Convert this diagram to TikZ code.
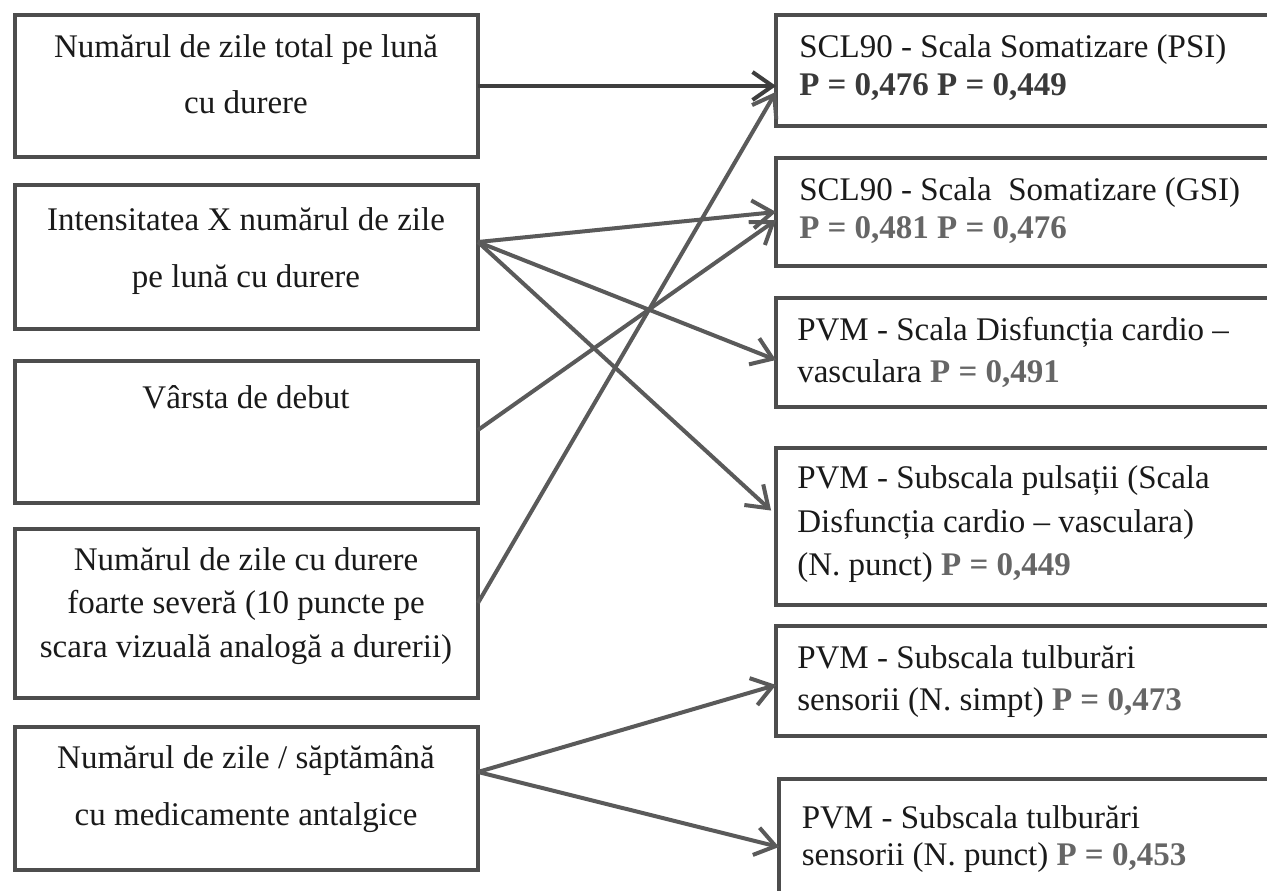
\documentclass[tikz,border=0pt]{standalone}
\usepackage{fontspec}
\setmainfont{Liberation Serif}
\usetikzlibrary{arrows.meta}
\definecolor{boxc}{HTML}{4D4D4D}
\definecolor{arrc}{HTML}{5A5A5A}
\definecolor{arrdark}{HTML}{3E3E3E}
\definecolor{txt}{HTML}{1A1A1A}
\definecolor{pgray}{HTML}{666666}
\definecolor{pdark}{HTML}{3A3A3A}
\tikzset{
  box/.style={draw=boxc, line width=2.6pt, rectangle, inner sep=0pt, outer sep=0pt},
  ln/.style={inner sep=0pt, font=\fontsize{24.75}{30}\selectfont, text=txt},
  cl/.style={ln, anchor=base},
  ll/.style={ln, anchor=base west},
  conn/.style={draw=arrc, line width=3pt, -{Straight Barb[length=15pt,width=21pt]}},
}
\newcommand{\pv}[1]{\textbf{\textcolor{pgray}{#1}}}
\newcommand{\pd}[1]{\textbf{\textcolor{pdark}{#1}}}
\begin{document}
\begin{tikzpicture}[x=0.75pt,y=-0.75pt]
\fill[white] (0,0) rectangle (1267,890);
\useasboundingbox (0,0) rectangle (1267,890);
\clip (0,0) rectangle (1267,890);
% left boxes
\node[box, minimum width=347.25pt, minimum height=106.5pt] (L1) at (246.5,86) {};
\node[box, minimum width=347.25pt, minimum height=108pt] (L2) at (246.5,257) {};
\node[box, minimum width=347.25pt, minimum height=106.5pt] (L3) at (246.5,432) {};
\node[box, minimum width=347.25pt, minimum height=126.75pt] (L4) at (246.5,613.5) {};
\node[box, minimum width=347.25pt, minimum height=107.25pt] (L5) at (246.5,798.5) {};
% right boxes
\node[box, minimum width=385.5pt, minimum height=83.25pt] (R1) at (1033,70.5) {};
\node[box, minimum width=385.5pt, minimum height=81pt] (R2) at (1033,212) {};
\node[box, minimum width=385.5pt, minimum height=81.75pt] (R3) at (1033,352.5) {};
\node[box, minimum width=385.5pt, minimum height=117.75pt] (R4) at (1033,526.5) {};
\node[box, minimum width=385.5pt, minimum height=82.5pt] (R5) at (1033,681) {};
\node[box, minimum width=383.25pt, minimum height=94.5pt] (R6) at (1034.5,842) {};
% connectors
\draw[conn, draw=arrdark] (L1.east) -- (R1.west |- L1.east);
\draw[conn] ([yshift=11.25pt]L2.east) -- (R2.west);
\draw[conn] ([yshift=11.25pt]L2.east) -- ([yshift=-5.6pt]R3.west);
\draw[conn, shorten >=5pt] ([yshift=11.25pt]L2.east) -- ([yshift=8.6pt]R4.west);
\draw[conn] ([yshift=1.5pt]L3.east) -- ([yshift=-6pt]R2.west);
\draw[conn] ([yshift=7.9pt]L4.east) -- ([yshift=-16pt]R1.west);
\draw[conn] ([yshift=19.9pt]L5.east) -- ([yshift=-3pt]R5.west);
\draw[conn] ([yshift=19.9pt]L5.east) -- ([yshift=-3.75pt]R6.west);
% left texts
\node[cl] (t11) at (246,57) {Numărul de zile total pe lună};
\node[cl] (t12) at (246,113) {cu durere};
\node[cl] (t21) at (246,230) {Intensitatea X numărul de zile};
\node[cl] (t22) at (246,287) {pe lună cu durere};
\node[cl] (t31) at (246,408) {Vârsta de debut};
\node[cl] (t41) at (246,570.5) {Numărul de zile cu durere};
\node[cl] (t42) at (246,613.5) {foarte severă (10 puncte pe};
\node[cl] (t43) at (246,657.5) {scara vizuală analogă a durerii)};
\node[cl] (t51) at (246,768) {Numărul de zile / săptămână};
\node[cl] (t52) at (246,825) {cu medicamente antalgice};
% right texts
\node[ll] (r11) at (799,57) {SCL90 - Scala Somatizare (PSI)};
\node[ll] (r12) at (799,95) {\pd{P = 0,476 P = 0,449}};
\node[ll] (r21) at (799,200) {SCL90 - Scala\ \ Somatizare (GSI)};
\node[ll] (r22) at (799,238) {\pv{P = 0,481 P = 0,476}};
\node[ll] (r31) at (797,340) {PVM - Scala Disfuncția cardio –};
\node[ll] (r32) at (797,382) {vasculara \pv{P = 0,491}};
\node[ll] (r41) at (797,488) {PVM - Subscala pulsații (Scala};
\node[ll] (r42) at (797,532) {Disfuncția cardio – vasculara)};
\node[ll] (r43) at (797,575) {(N. punct) \pv{P = 0,449}};
\node[ll] (r51) at (797,668) {PVM - Subscala tulburări};
\node[ll] (r52) at (797,710) {sensorii (N. simpt) \pv{P = 0,473}};
\node[ll] (r61) at (801.5,828) {PVM - Subscala tulburări};
\node[ll] (r62) at (801.5,865) {sensorii (N. punct) \pv{P = 0,453}};
\end{tikzpicture}
\end{document}
